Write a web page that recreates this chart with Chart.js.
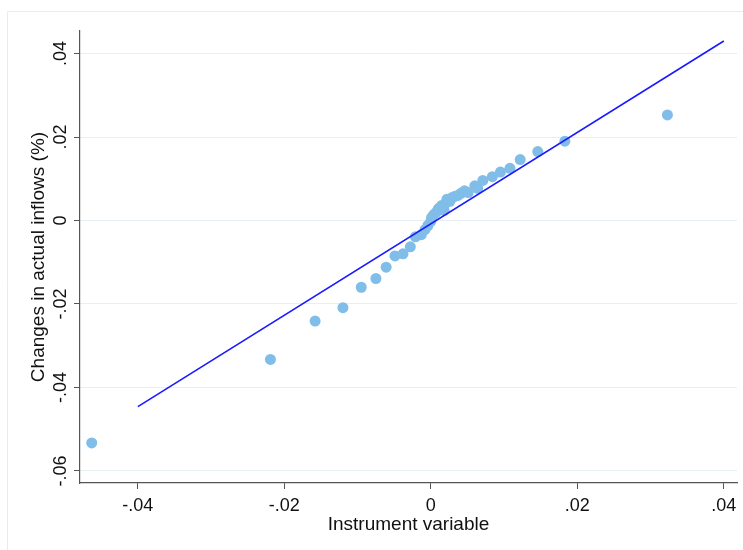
<!DOCTYPE html>
<html lang="en">
<head>
    <meta charset="UTF-8">
    <title>Instrument variable vs. changes in actual inflows</title>
    <script src="https://cdn.jsdelivr.net/npm/chart.js"></script>
    <style>
        html, body {
            margin: 0;
            padding: 0;
            background: #ffffff;
        }
        #chart-container {
            position: relative;
            width: 743px;
            height: 550px;
        }
    </style>
</head>
<body>
    <div id="chart-container">
        <canvas id="chart" width="743" height="550"></canvas>
    </div>

    <script>
        // observations: instrument (x) against change in actual inflows (y)
        const instrumentX = [
            -0.0463, -0.0219, -0.0158, -0.0120, -0.0095, -0.0075, -0.0061, -0.0049,
            -0.0038, -0.0028, -0.0021, -0.0013, -0.0008, -0.0004, 0.0000, 0.0001,
            0.0004, 0.0007, 0.0010, 0.0012, 0.0015, 0.0018, 0.0020, 0.0022,
            0.0026, 0.0029, 0.0033, 0.0037, 0.0041, 0.0046, 0.0051, 0.0060,
            0.0064, 0.0071, 0.0084, 0.0095, 0.0108, 0.0122, 0.0146, 0.0183,
            0.0323
        ];
        const inflowY = [
            -0.0533, -0.0333, -0.0241, -0.0209, -0.0160, -0.0139, -0.0112, -0.0085,
            -0.0080, -0.0063, -0.0039, -0.0034, -0.0022, -0.0012, -0.0002, 0.0007,
            0.0014, 0.0019, 0.0027, 0.0031, 0.0036, 0.0024, 0.0041, 0.0051,
            0.0046, 0.0055, 0.0058, 0.0060, 0.0065, 0.0071, 0.0067, 0.0083,
            0.0077, 0.0096, 0.0105, 0.0116, 0.0125, 0.0146, 0.0165, 0.0190,
            0.0253
        ];

        // fitted line end points
        const fitX = [-0.04, 0.04];
        const fitY = [-0.0446, 0.0430];

        // axis ticks and their labels
        const xTicks = [-0.04, -0.02, 0, 0.02, 0.04];
        const xTickLabels = ['-.04', '-.02', '0', '.02', '.04'];
        const yTicks = [-0.06, -0.04, -0.02, 0, 0.02, 0.04];
        const yTickLabels = ['-.06', '-.04', '-.02', '0', '.02', '.04'];

        const FONT = "'Liberation Sans', Arial, Helvetica, sans-serif";

        const scatterPoints = instrumentX.map((x, i) => ({ x: x, y: inflowY[i] }));
        const fitPoints = fitX.map((x, i) => ({ x: x, y: fitY[i] }));

        // light frame round the figure, and the vertical y tick labels
        const framePlugin = {
            id: 'frame',
            beforeDraw(chart) {
                const c = chart.ctx;
                c.save();
                c.strokeStyle = '#e6edf1';
                c.lineWidth = 1;
                c.beginPath();
                c.moveTo(7.5, 560);
                c.lineTo(7.5, 11.5);
                c.lineTo(760, 11.5);
                c.stroke();
                c.restore();
            },
            afterDraw(chart) {
                const c = chart.ctx;
                const yScale = chart.scales.y;
                c.save();
                c.fillStyle = '#111111';
                c.font = '18px ' + FONT;
                c.textAlign = 'center';
                c.textBaseline = 'middle';
                yTicks.forEach((v, i) => {
                    const py = yScale.getPixelForValue(v);
                    c.save();
                    c.translate(61, py);
                    c.rotate(-Math.PI / 2);
                    c.fillText(yTickLabels[i], 0, 0);
                    c.restore();
                });
                c.restore();
            }
        };

        const ctx = document.getElementById('chart').getContext('2d');
        new Chart(ctx, {
            type: 'scatter',
            data: {
                datasets: [
                    {
                        type: 'line',
                        label: 'Fitted values',
                        data: fitPoints,
                        borderColor: '#1a1aff',
                        borderWidth: 1.6,
                        pointRadius: 0,
                        fill: false,
                        tension: 0,
                        order: 0
                    },
                    {
                        label: 'Changes in actual inflows (%)',
                        data: scatterPoints,
                        backgroundColor: '#80bde8',
                        borderColor: '#80bde8',
                        borderWidth: 0,
                        pointRadius: 5.5,
                        order: 1
                    }
                ]
            },
            options: {
                responsive: false,
                animation: false,
                layout: { padding: { left: 10, right: 6, top: 31, bottom: 0 } },
                plugins: {
                    legend: { display: false },
                    tooltip: { enabled: false }
                },
                scales: {
                    x: {
                        type: 'linear',
                        min: -0.0479,
                        max: 0.0418,
                        afterBuildTicks: scale => { scale.ticks = xTicks.map(v => ({ value: v })); },
                        afterFit: scale => { scale.height = 67; },
                        grid: {
                            drawOnChartArea: false,
                            drawTicks: true,
                            tickLength: 6,
                            tickColor: '#555555'
                        },
                        border: { display: true, color: '#555555', width: 1.2 },
                        ticks: {
                            color: '#111111',
                            font: { family: FONT, size: 18 },
                            padding: 6,
                            maxRotation: 0,
                            callback: (value) => xTickLabels[xTicks.indexOf(value)]
                        },
                        title: {
                            display: true,
                            text: 'Instrument variable',
                            color: '#111111',
                            font: { family: FONT, size: 19 },
                            padding: { top: 0, bottom: 14 }
                        }
                    },
                    y: {
                        type: 'linear',
                        min: -0.0629,
                        max: 0.0454,
                        afterBuildTicks: scale => { scale.ticks = yTicks.map(v => ({ value: v })); },
                        afterFit: scale => { scale.width = 70; },
                        grid: {
                            color: '#e8eff3',
                            lineWidth: 1,
                            drawTicks: true,
                            tickLength: 6,
                            tickColor: '#555555'
                        },
                        border: { display: true, color: '#555555', width: 1.2 },
                        ticks: { display: false },
                        title: {
                            display: true,
                            text: 'Changes in actual inflows (%)',
                            color: '#111111',
                            font: { family: FONT, size: 19 },
                            padding: { top: 17, bottom: 0 }
                        }
                    }
                }
            },
            plugins: [framePlugin]
        });
    </script>
</body>
</html>
